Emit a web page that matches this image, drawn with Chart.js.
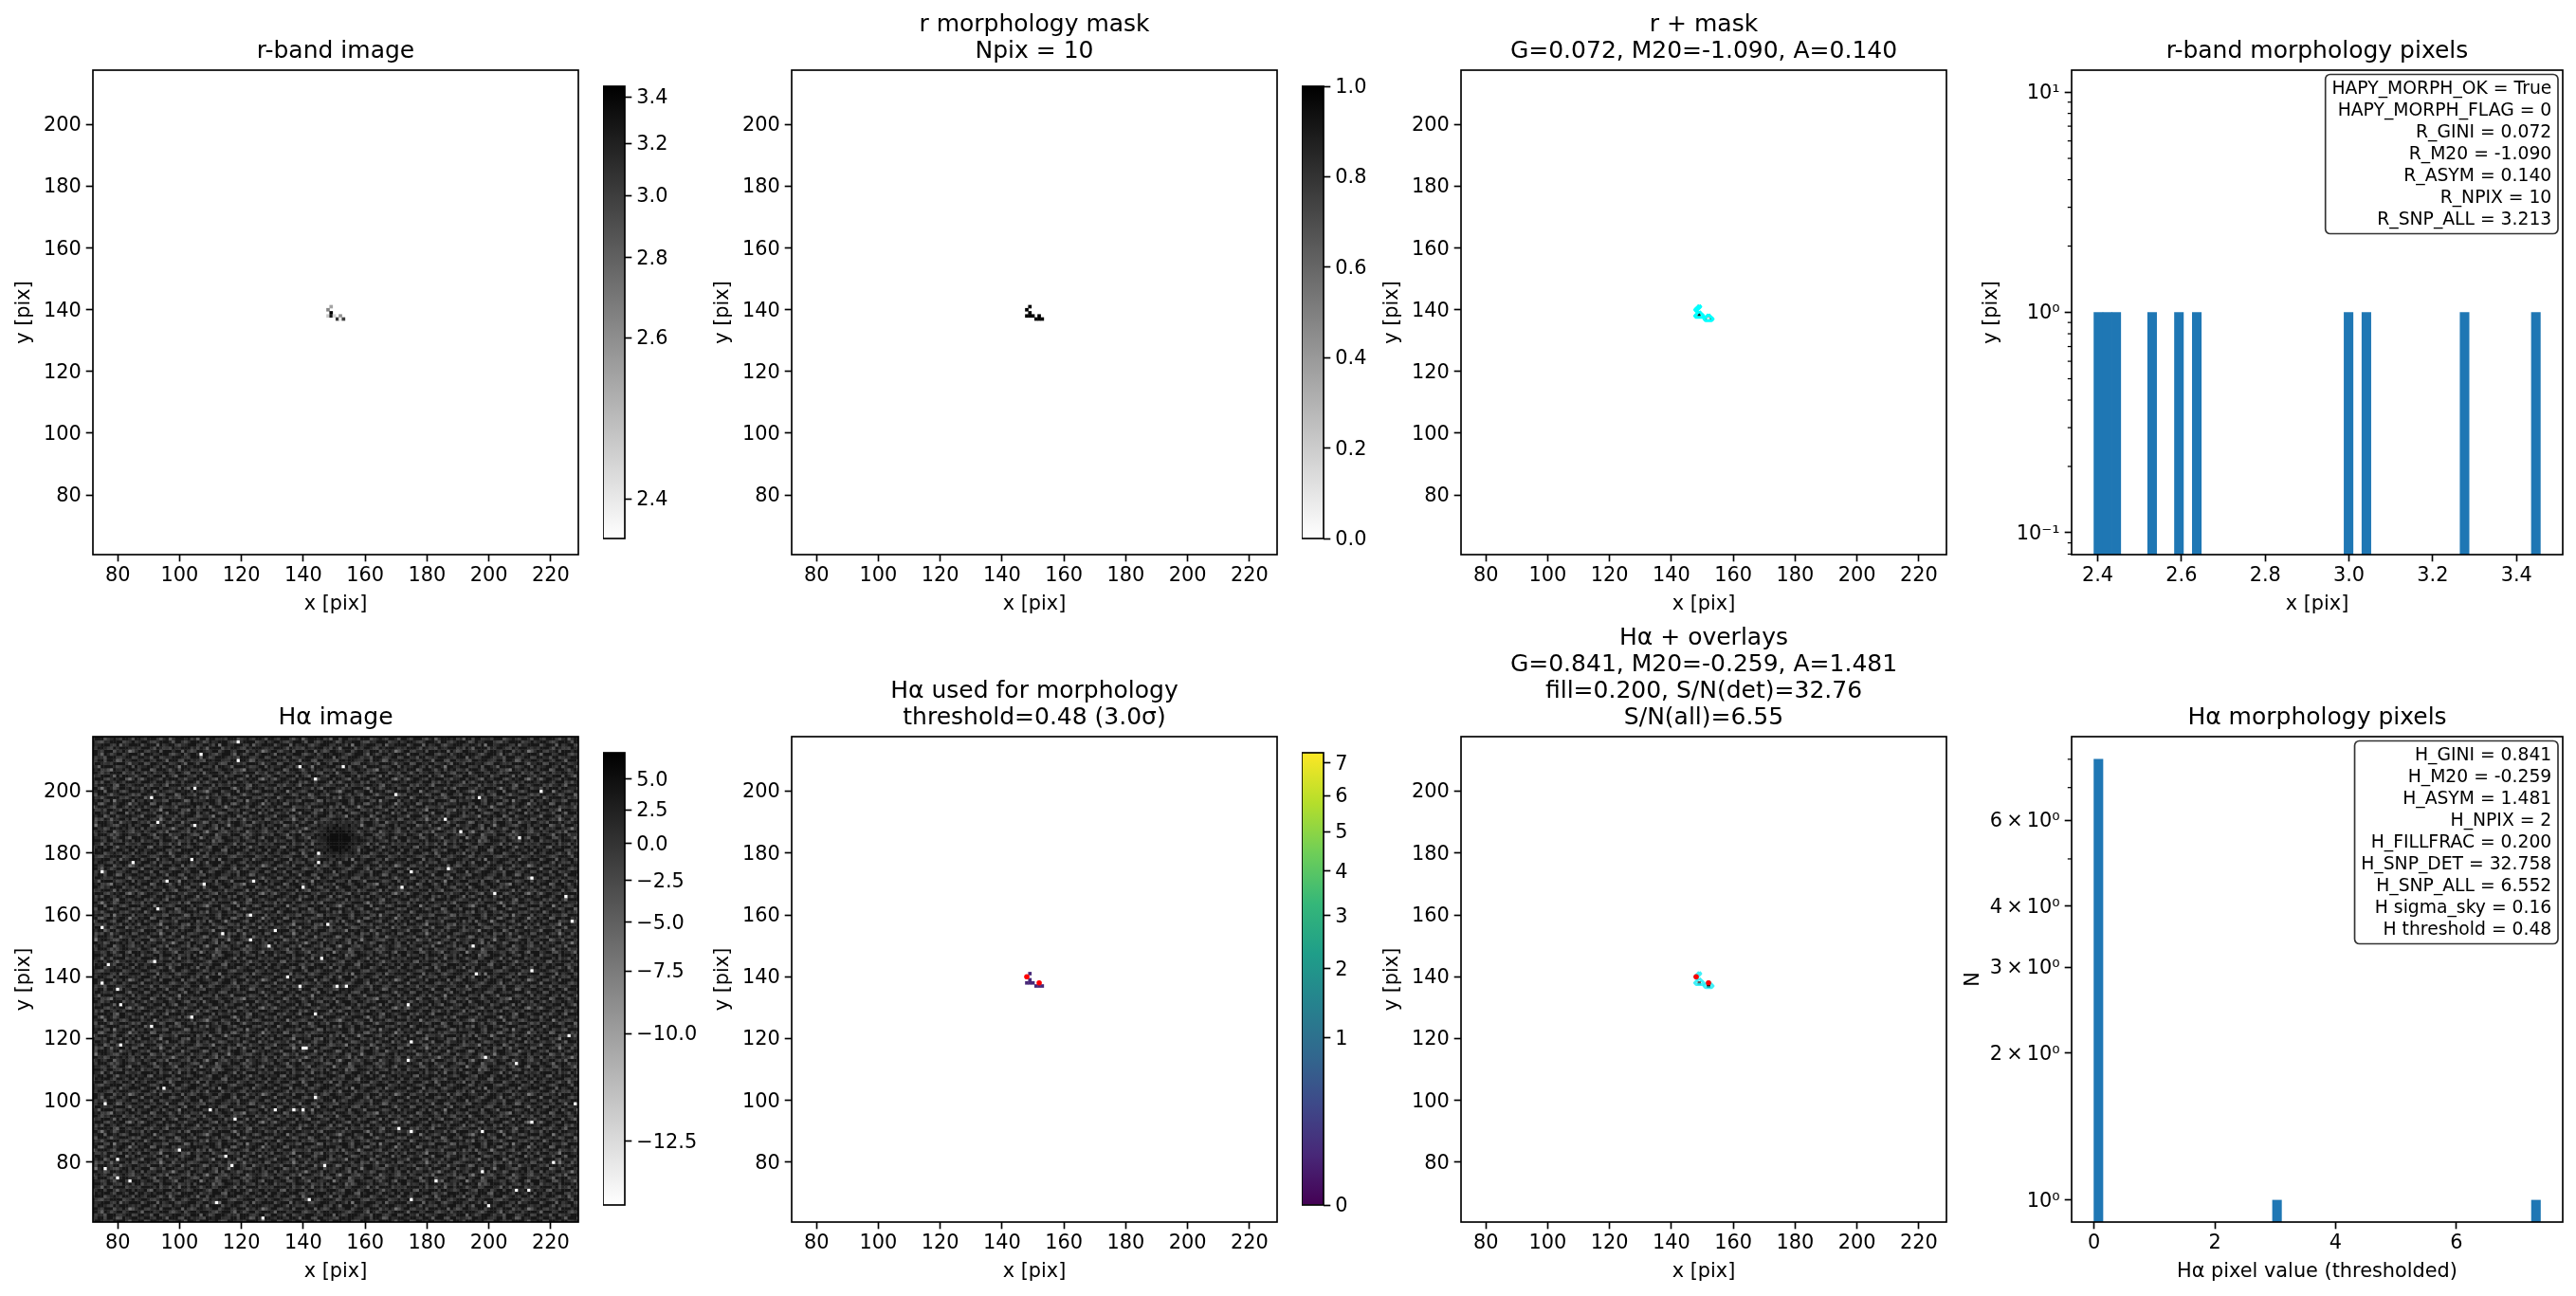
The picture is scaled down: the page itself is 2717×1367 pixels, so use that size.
<!DOCTYPE html>
<html>
<head>
<meta charset="utf-8">
<title>Morphology panels</title>
<script src="https://cdn.jsdelivr.net/npm/chart.js@4/dist/chart.umd.js"></script>
<style>
  html, body { margin: 0; background: #fff; }
  #page { position: relative; width: 2717px; height: 1367px; overflow: hidden; }
  canvas { position: absolute; }
</style>
</head>
<body>
<div id="page"></div>
<script>
// tick values and labels
const pixelXTicks = [80, 100, 120, 140, 160, 180, 200, 220];
const pixelYTicks = [80, 100, 120, 140, 160, 180, 200];
const rHistXTicks = [2.4, 2.6, 2.8, 3.0, 3.2, 3.4];
const rHistXLabels = ['2.4', '2.6', '2.8', '3.0', '3.2', '3.4'];
const rHistYTicks = [0.1, 1, 10];
const rHistYLabels = ['10⁻¹', '10⁰', '10¹'];
const rHistYMinor = [0.08, 0.09, 0.2, 0.3, 0.4, 0.5, 0.6, 0.7, 0.8, 0.9, 2, 3, 4, 5, 6, 7, 8, 9];
const haHistXTicks = [0, 2, 4, 6];
const haHistYTicks = [1, 2, 3, 4, 6];
const haHistYLabels = ['10⁰', '2\u2009×\u200910⁰', '3\u2009×\u200910⁰', '4\u2009×\u200910⁰', '6\u2009×\u200910⁰'];
const haHistYMinor = [5, 7, 8];

const rCbarTicks = [2.4, 2.6, 2.8, 3.0, 3.2, 3.4];
const rCbarLabels = ['2.4', '2.6', '2.8', '3.0', '3.2', '3.4'];
const maskCbarTicks = [0, 0.2, 0.4, 0.6, 0.8, 1];
const maskCbarLabels = ['0.0', '0.2', '0.4', '0.6', '0.8', '1.0'];
const haCbarTicks = [-12.5, -10, -7.5, -5, -2.5, 0, 2.5, 5];
const haCbarLabels = ['−12.5', '−10.0', '−7.5', '−5.0', '−2.5', '0.0', '2.5', '5.0'];
const haUsedCbarTicks = [0, 1, 2, 3, 4, 5, 6, 7];
const haUsedCbarLabels = ['0', '1', '2', '3', '4', '5', '6', '7'];

// the ten pixels of the morphology mask
const maskX = [149, 148, 149, 148, 149, 150, 152, 151, 152, 153];
const maskY = [141, 140, 139, 138, 138, 138, 138, 137, 137, 137];
const rImageValues = [2.53, 2.63, 3.45, 2.44, 3.27, 2.42, 2.59, 3.04, 2.40, 2.99];
const maskValues = [1, 1, 1, 1, 1, 1, 1, 1, 1, 1];
const haUsedValues = [0.03, 0.03, 0.03, 0.03, 0.03, 0.03, 0.03, 0.03, 0.03, 0.03];
const haOverlayX = [149, 152];
const haOverlayY = [138, 137];
const haOverlayValues = [3.0, 7.3];
const peakX = [148, 152];
const peakY = [140, 138];

// mask outlines, [x, y]
const outlineTop = [[149, 141.5], [149.5, 141], [149, 140.5], [148.5, 140], [148, 139.5], [147.5, 140], [148, 140.5], [148.5, 141], [149, 141.5]];
const outlineLow = [[149, 139.5], [149.5, 139], [150, 138.5], [150.5, 138], [150, 137.5], [148, 137.5], [147.5, 138], [148, 138.5], [148.5, 139], [149, 139.5]];
const outlineRight = [[152, 138.5], [152.5, 138], [153, 137.5], [153.5, 137], [153, 136.5], [151, 136.5], [150.5, 137], [151, 137.5], [151.5, 138], [152, 138.5]];

// histograms
const rHistBins = [2.4017, 2.4230, 2.4443, 2.5300, 2.5940, 2.6366, 2.9990, 3.0416, 3.2760, 3.4463];
const rHistCounts = [1, 1, 1, 1, 1, 1, 1, 1, 1, 1];
const haHistBins = [0.074, 0.222, 3.030, 7.316];
const haHistCounts = [8, null, 1, 1];

// stat boxes
const rStatLines = ['HAPY_MORPH_OK = True', 'HAPY_MORPH_FLAG = 0', 'R_GINI = 0.072', 'R_M20 = -1.090', 'R_ASYM = 0.140', 'R_NPIX = 10', 'R_SNP_ALL = 3.213'];
const haStatLines = ['H_GINI = 0.841', 'H_M20 = -0.259', 'H_ASYM = 1.481', 'H_NPIX = 2', 'H_FILLFRAC = 0.200', 'H_SNP_DET = 32.758', 'H_SNP_ALL = 6.552', 'H sigma_sky = 0.16', 'H threshold = 0.48'];

// Halpha image: white specks, [x, y]
const haSpecks = [
  [119,216],[107,212],[119,210],[139,208],[153,208],[144,204],[170,199],[91,198],[197,198],[217,200],[105,201],
  [93,190],[105,189],[186,191],[210,185],[191,187],[145,180],[145,177],[104,178],[85,177],[75,174],[175,174],
  [187,175],[96,171],[108,170],[124,171],[140,169],[172,169],[214,172],[202,167],[225,166],[227,158],[148,157],
  [123,160],[93,162],[75,156],[114,154],[123,152],[131,155],[129,150],[195,150],[214,142],[92,145],[146,146],
  [77,144],[75,138],[196,141],[139,137],[151,137],[154,137],[135,140],[80,136],[81,131],[174,131],[144,128],
  [104,127],[91,124],[81,118],[175,119],[140,117],[141,117],[226,121],[199,114],[174,113],[209,112],[95,104],
  [144,101],[76,99],[110,97],[131,97],[137,97],[140,97],[228,99],[214,93],[118,94],[175,90],[171,91],[198,90],
  [80,81],[115,82],[117,79],[76,78],[80,75],[84,74],[183,74],[198,77],[209,71],[100,84],[147,79],[221,80],
  [200,66],[175,68],[142,68],[112,67],[127,62],[213,71]
];
// Halpha image: grey levels of a sample patch, repeated over the field (not a cell-by-cell reading)
const haLevelValues = [4, 1.5, 0.5, -0.5, -1.5, -2.5, -3.5, -5, -7];
const haPatch = [
  '0031005620114700231008301265001143026100470',
  '2500137010062230014650210073114000362510021',
  '1104200351700014260300581002462013007310146',
  '0060312002148300150024001370500216400102035',
  '3200075116000243006113200460028100135610040',
  '0142600030251007130002760103415000240073120',
  '5001024183006120045310002014006350171200306',
  '1370000460121503000264113800102007400521001',
  '0024115002700036110050240016530012063000714',
  '2600031480001205470132000621004415001260030',
  '0105200063312600002061507100283000146002503',
  '4010076001004153120000340025010672003100182',
  '0230104215600001760412100036001004508120006',
  '1007300002041362000105270114003261000043510',
  '3500120164000750032600010250146000372100026',
  '0041008201353001004013682000521007001046300',
  '2160300040012160470000215130000482016300105',
  '0005261103700002013522000604213000105700241',
  '1300014000526104000170361002005160023014000',
  '0472001350100032611004002570130004620100683',
  '5100230006014700023500124001062300017040012',
  '0026104120033001560020710003400251300006215',
  '1400075000261050104316000152001043680120300',
  '0311002406100280012000433060012700001542006',
  '2006500130043102700150002104650013240000371',
  '0130024001700056003124600100233005001760210',
  '4002160053120001240007015300014126000342005',
  '0170003200046310510020001462000370152004100',
  '2004511060002007036400132005100240006130286',
  '1300026014350120004150270000613001450200013',
  '0062000703100462100033001508002100034071200',
  '3100145200016003520001640210003561200005320',
  '0024000361072000104170050032140006310240016',
  '5003102000451360000205213000670100025001400',
  '0110670120004001253000146001052004003712003',
  '2400003051260170030016200430001270160000521',
  '0061320040002053140500010726300014002350104'
];
// Halpha image: the dark hollow north of the source
const haDarkPatches = [
  { x: 146, y: 190, rows: [
    '413152142314', '241210312031', '310201012123', '120010001012', '201000000102',
    '110000000011', '210000000012', '120000000101', '311000001023', '120100010112',
    '302112013102', '431203124213'] }
];

// colour map stops
const viridisStops = ['#440154', '#482878', '#3e4989', '#31688e', '#26828e', '#1f9e89', '#35b779', '#6ece58', '#b5de2b', '#fde725'];

const FONT = 'DejaVu Sans';
const TICK_SIZE = 20.83;
const TITLE_SIZE = 25;
const TITLE_LINE = 28;
const LINE_W = 1.67;
const TICK_LEN = 7.3;

const colLeft = [98, 835, 1541, 2185];
const colRight = [610, 1347, 2053, 2703];
const rowTop = [74, 777];
const rowBottom = [585, 1289];
const cbarTop = [91, 794];
const cbarBottom = [568, 1271];
const cbarLeft = [636, 1373];
const cbarRight = [659, 1396];

const sqrtStretch = (v, vmin, vmax) => Math.sqrt(Math.max(0, Math.min(1, (v - vmin) / (vmax - vmin))));

function grayR(n) {
  const g = Math.round(255 * (1 - n));
  return `rgb(${g},${g},${g})`;
}

function viridis(n) {
  const pos = n * (viridisStops.length - 1);
  return viridisStops[Math.round(pos)];
}

const rColor = (v) => grayR(sqrtStretch(v, 2.392, 3.45));
const maskColor = (v) => grayR(v);
const haColor = (v) => grayR(sqrtStretch(v, -12.9, 7.3));
const haUsedColor = (v) => viridis(sqrtStretch(v, 0, 7.33));
const overlayColor = (v) => grayR(sqrtStretch(v, 0, 7.33));

function cellRows(xs, ys, values) {
  return xs.map((x, i) => ({ x, y: ys[i], v: values[i] }));
}

function haImageCells() {
  const cells = new Map();
  for (let y = 61; y <= 218; y++) {
    const row = haPatch[y % haPatch.length];
    for (let x = 72; x <= 229; x++) {
      cells.set(`${x},${y}`, haLevelValues[Number(row[x % row.length])]);
    }
  }
  haDarkPatches.forEach((patch) => {
    patch.rows.forEach((row, j) => {
      [...row].forEach((level, i) => {
        cells.set(`${patch.x + i},${patch.y - j}`, haLevelValues[Number(level)] + 1);
      });
    });
  });
  haSpecks.forEach(([x, y]) => cells.set(`${x},${y}`, -12.9));
  return [...cells.entries()].map(([key, v]) => {
    const [x, y] = key.split(',').map(Number);
    return { x, y, v };
  });
}

function cellDataset(data, colorOf) {
  return {
    data,
    order: 3,
    clip: 0,
    showLine: false,
    pointStyle: 'rect',
    pointBorderWidth: 0,
    pointBackgroundColor: (ctx) => (ctx.raw ? colorOf(ctx.raw.v) : '#fff'),
    pointRadius: (ctx) => {
      const scale = ctx.chart.scales.x;
      return ((scale.getPixelForValue(1) - scale.getPixelForValue(0)) / 2) * Math.SQRT2 + 0.3;
    }
  };
}

function outlineDataset(points, color) {
  return {
    data: points.map(([x, y]) => ({ x, y })),
    order: 2,
    showLine: true,
    fill: false,
    tension: 0,
    borderColor: color,
    borderWidth: 3,
    borderJoinStyle: 'round',
    pointRadius: 0
  };
}

function peakDataset() {
  return {
    data: cellRows(peakX, peakY, peakX),
    order: 1,
    showLine: false,
    pointStyle: 'circle',
    pointBackgroundColor: '#ff0000',
    pointBorderWidth: 0,
    pointRadius: 2.8
  };
}

const framePlugin = {
  id: 'frame',
  afterDraw(chart) {
    const { ctx, chartArea: a } = chart;
    ctx.save();
    ctx.strokeStyle = '#000';
    ctx.lineWidth = LINE_W;
    ctx.strokeRect(a.left, a.top, a.right - a.left, a.bottom - a.top);
    ctx.restore();
  }
};

const minorTickPlugin = {
  id: 'minorTicks',
  afterDraw(chart, args, opts) {
    if (!opts.values) return;
    const { ctx, chartArea: a, scales } = chart;
    ctx.save();
    ctx.strokeStyle = '#000';
    ctx.lineWidth = 1.25;
    opts.values.forEach((v) => {
      const y = scales.y.getPixelForValue(v);
      ctx.beginPath();
      ctx.moveTo(a.left, y);
      ctx.lineTo(a.left - 4.2, y);
      ctx.stroke();
    });
    ctx.restore();
  }
};

const statsBoxPlugin = {
  id: 'statsBox',
  afterDraw(chart, args, opts) {
    if (!opts.lines) return;
    const { ctx, chartArea: a } = chart;
    const lineGap = 23;
    ctx.save();
    ctx.font = `18.75px "${FONT}"`;
    const textW = Math.max(...opts.lines.map((line) => ctx.measureText(line).width));
    const right = a.right - 5;
    const top = a.top + 4.5;
    const width = textW + 13.4;
    const height = opts.lines.length * lineGap + 7;
    ctx.beginPath();
    ctx.roundRect(right - width, top, width, height, 5);
    ctx.fillStyle = 'rgba(255,255,255,0.85)';
    ctx.fill();
    ctx.lineWidth = 1.67;
    ctx.strokeStyle = 'rgba(0,0,0,0.8)';
    ctx.stroke();
    ctx.fillStyle = '#000';
    ctx.textAlign = 'right';
    ctx.textBaseline = 'middle';
    opts.lines.forEach((line, i) => {
      ctx.fillText(line, right - 6.7, top + 15.5 + i * lineGap);
    });
    ctx.restore();
  }
};

function addCanvas(left, top, width, height) {
  const canvas = document.createElement('canvas');
  canvas.style.left = `${left}px`;
  canvas.style.top = `${top}px`;
  canvas.style.width = `${width}px`;
  canvas.style.height = `${height}px`;
  canvas.width = width;
  canvas.height = height;
  document.getElementById('page').appendChild(canvas);
  return canvas.getContext('2d');
}

function tickAxis(type, position, min, max, tickValues, labelOf, titleText, fixedSize) {
  return {
    type,
    position,
    min,
    max,
    offset: false,
    afterBuildTicks(scale) {
      scale.ticks = tickValues.map((value) => ({ value }));
    },
    afterFit(scale) {
      if (scale.isHorizontal()) scale.height = fixedSize;
      else scale.width = fixedSize;
    },
    grid: { drawOnChartArea: false, offset: false, tickLength: TICK_LEN, tickWidth: LINE_W, tickColor: '#000' },
    border: { display: false },
    ticks: {
      color: '#000',
      font: { family: FONT, size: TICK_SIZE },
      padding: position === 'bottom' ? 3 : 5,
      labelOffset: position === 'bottom' ? 0 : 1.5,
      autoSkip: false,
      maxRotation: 0,
      minRotation: 0,
      callback: (value, index) => labelOf(value, index)
    },
    title: {
      display: true,
      text: titleText,
      color: '#000',
      font: { family: FONT, size: TICK_SIZE },
      padding: position === 'bottom' ? { top: 0, bottom: 4.5 } : 0
    }
  };
}

function panel(col, row, cfg) {
  const titleLines = Array.isArray(cfg.title) ? cfg.title.length : 1;
  const padT = titleLines * TITLE_LINE + 8;
  const padB = 70;
  const padR = 14;
  const padL = cfg.yTitleOffset + 12;
  const axW = colRight[col] - colLeft[col];
  const axH = rowBottom[row] - rowTop[row];
  const ctx = addCanvas(colLeft[col] - padL, rowTop[row] - padT, axW + padL + padR, axH + padT + padB);
  return new Chart(ctx, {
    type: cfg.type || 'scatter',
    data: { labels: cfg.labels, datasets: cfg.datasets },
    options: {
      animation: false,
      responsive: false,
      devicePixelRatio: 1,
      events: [],
      layout: { padding: { right: padR } },
      plugins: {
        legend: { display: false },
        tooltip: { enabled: false },
        title: {
          display: true,
          text: cfg.title,
          fullSize: false,
          color: '#000',
          font: { family: FONT, size: TITLE_SIZE, weight: 'normal', lineHeight: TITLE_LINE / TITLE_SIZE },
          padding: { top: 2, bottom: 6 }
        },
        minorTicks: { values: cfg.minor },
        statsBox: { lines: cfg.stats }
      },
      scales: {
        x: tickAxis(cfg.xType || 'linear', 'bottom', cfg.xMin, cfg.xMax, cfg.xTicks, cfg.xLabel, cfg.xTitle, padB),
        y: tickAxis(cfg.yType || 'linear', 'left', cfg.yMin, cfg.yMax, cfg.yTicks, cfg.yLabel, cfg.yTitle, padL)
      }
    },
    plugins: [framePlugin, minorTickPlugin, statsBoxPlugin]
  });
}

function imagePanel(col, row, title, datasets) {
  return panel(col, row, {
    title,
    datasets,
    yTitleOffset: 73,
    xMin: 71.95,
    xMax: 228.95,
    yMin: 60.65,
    yMax: 217.65,
    xTicks: pixelXTicks,
    yTicks: pixelYTicks,
    xLabel: (v) => String(v),
    yLabel: (v) => String(v),
    xTitle: 'x [pix]',
    yTitle: 'y [pix]'
  });
}

function colorbar(col, row, tickValues, labels, stretch, stops) {
  const padV = 20;
  const padR = 90;
  const width = cbarRight[col] - cbarLeft[col];
  const height = cbarBottom[row] - cbarTop[row];
  const ctx = addCanvas(cbarLeft[col], cbarTop[row] - padV, width + padR, height + 2 * padV);
  return new Chart(ctx, {
    type: 'bar',
    data: {
      labels: ['cbar'],
      datasets: [{
        data: [[0, 1]],
        barPercentage: 1,
        categoryPercentage: 1,
        borderWidth: 0,
        backgroundColor: (c) => {
          const area = c.chart.chartArea;
          if (!area) return stops[0];
          const gradient = c.chart.ctx.createLinearGradient(0, area.bottom, 0, area.top);
          stops.forEach((color, i) => gradient.addColorStop(i / (stops.length - 1), color));
          return gradient;
        }
      }]
    },
    options: {
      animation: false,
      responsive: false,
      devicePixelRatio: 1,
      events: [],
      layout: { padding: { top: padV, bottom: padV } },
      plugins: { legend: { display: false }, tooltip: { enabled: false } },
      scales: {
        x: { display: false },
        y: {
          type: 'linear',
          position: 'right',
          min: 0,
          max: 1,
          afterBuildTicks(scale) {
            scale.ticks = tickValues.map((v) => ({ value: stretch(v) }));
          },
          afterFit(scale) {
            scale.width = padR;
          },
          grid: { drawOnChartArea: false, tickLength: TICK_LEN, tickWidth: LINE_W, tickColor: '#000' },
          border: { display: false },
          ticks: {
            color: '#000',
            font: { family: FONT, size: TICK_SIZE },
            padding: 5,
            labelOffset: 1.5,
            autoSkip: false,
            callback: (value, index) => labels[index]
          }
        }
      }
    },
    plugins: [framePlugin]
  });
}

const cyan = '#00ffff';
const paleCyan = 'rgba(0,235,245,0.75)';

imagePanel(0, 0, 'r-band image', [cellDataset(cellRows(maskX, maskY, rImageValues), rColor)]);
colorbar(0, 0, rCbarTicks, rCbarLabels, (v) => sqrtStretch(v, 2.392, 3.45), ['#ffffff', '#000000']);

imagePanel(1, 0, ['r morphology mask', 'Npix = 10'], [cellDataset(cellRows(maskX, maskY, maskValues), maskColor)]);
colorbar(1, 0, maskCbarTicks, maskCbarLabels, (v) => v, ['#ffffff', '#000000']);

imagePanel(2, 0, ['r + mask', 'G=0.072, M20=-1.090, A=0.140'], [
  outlineDataset(outlineTop, cyan),
  outlineDataset(outlineLow, cyan),
  outlineDataset(outlineRight, cyan),
  cellDataset(cellRows(maskX, maskY, rImageValues), rColor)
]);

panel(3, 0, {
  type: 'bar',
  title: 'r-band morphology pixels',
  yTitleOffset: 85,
  datasets: [{
    data: rHistBins.map((x, i) => ({ x, y: rHistCounts[i] })),
    backgroundColor: '#1f77b4',
    barPercentage: 1,
    categoryPercentage: 1,
    borderWidth: 0
  }],
  xMin: 2.3377,
  xMax: 3.5104,
  yType: 'logarithmic',
  yMin: 0.0796,
  yMax: 12.57,
  xTicks: rHistXTicks,
  yTicks: rHistYTicks,
  xLabel: (v, i) => rHistXLabels[i],
  yLabel: (v, i) => rHistYLabels[i],
  xTitle: 'x [pix]',
  yTitle: 'y [pix]',
  minor: rHistYMinor,
  stats: rStatLines
});

imagePanel(0, 1, 'Hα image', [cellDataset(haImageCells(), haColor)]);
colorbar(0, 1, haCbarTicks, haCbarLabels, (v) => sqrtStretch(v, -12.9, 7.3), ['#ffffff', '#000000']);

imagePanel(1, 1, ['Hα used for morphology', 'threshold=0.48 (3.0σ)'], [
  peakDataset(),
  cellDataset(cellRows(maskX, maskY, haUsedValues), haUsedColor)
]);
colorbar(1, 1, haUsedCbarTicks, haUsedCbarLabels, (v) => sqrtStretch(v, 0, 7.33), viridisStops);

imagePanel(2, 1, ['Hα + overlays', 'G=0.841, M20=-0.259, A=1.481', 'fill=0.200, S/N(det)=32.76', 'S/N(all)=6.55'], [
  peakDataset(),
  outlineDataset(outlineTop, paleCyan),
  outlineDataset(outlineLow, paleCyan),
  outlineDataset(outlineRight, paleCyan),
  cellDataset(cellRows(haOverlayX, haOverlayY, haOverlayValues), overlayColor)
]);

panel(3, 1, {
  type: 'bar',
  title: 'Hα morphology pixels',
  yTitleOffset: 104,
  datasets: [{
    data: haHistBins.map((x, i) => ({ x, y: haHistCounts[i] })),
    backgroundColor: '#1f77b4',
    barPercentage: 1,
    categoryPercentage: 1,
    borderWidth: 0
  }],
  xMin: -0.37,
  xMax: 7.759,
  yType: 'logarithmic',
  yMin: 0.902,
  yMax: 8.9,
  xTicks: haHistXTicks,
  yTicks: haHistYTicks,
  xLabel: (v) => String(v),
  yLabel: (v, i) => haHistYLabels[i],
  xTitle: 'Hα pixel value (thresholded)',
  yTitle: 'N',
  minor: haHistYMinor,
  stats: haStatLines
});
</script>
</body>
</html>
